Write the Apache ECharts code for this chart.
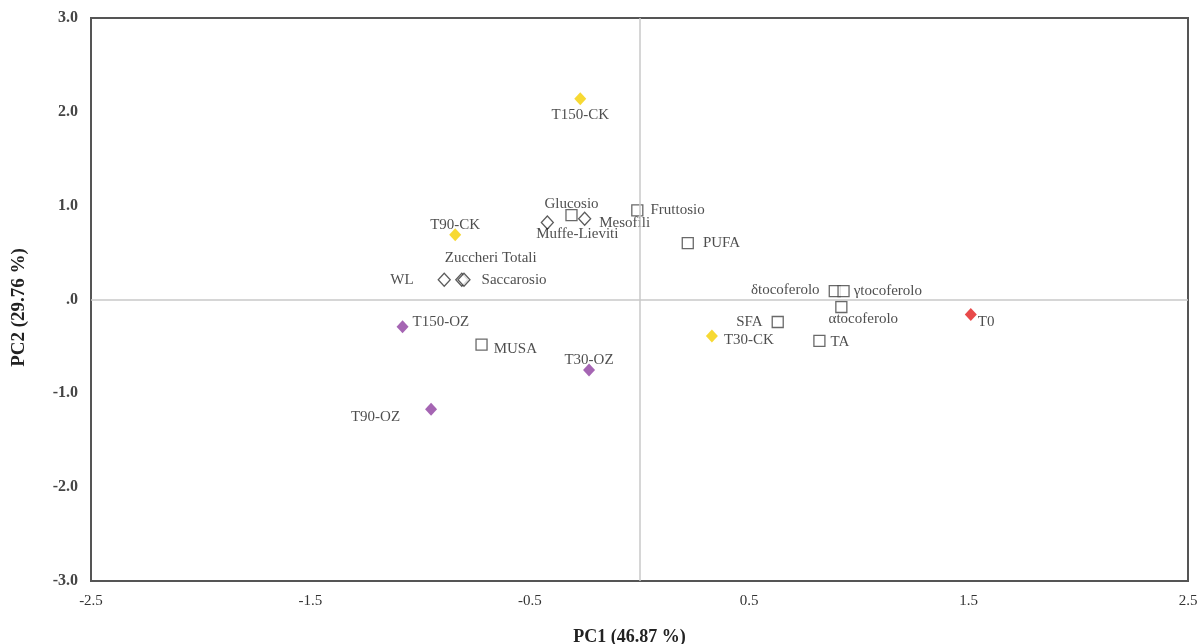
<!DOCTYPE html>
<html><head><meta charset="utf-8">
<script src="https://cdn.jsdelivr.net/npm/echarts@6/dist/echarts.min.js"></script>
<style>html,body{margin:0;padding:0;background:#fff}#c{width:1202px;height:644px}</style>
</head><body><div id="c"></div>
<script>
// ---- data ----
const ckNames = ['T150-CK', 'T90-CK', 'T30-CK'];
const ckX = [-0.27, -0.84, 0.33];
const ckY = [2.14, 0.69, -0.39];

const ozNames = ['T150-OZ', 'T30-OZ', 'T90-OZ'];
const ozX = [-1.08, -0.23, -0.95];
const ozY = [-0.29, -0.75, -1.17];

const t0Names = ['T0'];
const t0X = [1.51];
const t0Y = [-0.16];

const sqNames = ['Glucosio', 'Fruttosio', 'PUFA', 'MUSA', 'SFA', 'TA', 'δtocoferolo', 'γtocoferolo', 'αtocoferolo'];
const sqX = [-0.31, -0.01, 0.22, -0.72, 0.63, 0.82, 0.89, 0.93, 0.92];
const sqY = [0.90, 0.95, 0.60, -0.48, -0.24, -0.44, 0.09, 0.09, -0.08];

const dmNames = ['Muffe-Lieviti', 'Mesofili', 'WL', 'Zuccheri Totali', 'Saccarosio'];
const dmX = [-0.42, -0.25, -0.89, -0.81, -0.80];
const dmY = [0.82, 0.86, 0.21, 0.21, 0.21];

const xTickLabels = ['-2.5', '-1.5', '-0.5', '0.5', '1.5', '2.5'];
const yTickLabels = ['-3.0', '-2.0', '-1.0', '.0', '1.0', '2.0', '3.0'];

// ---- label placement (style only) ----
const labelCfg = {
  'T150-CK': {position: 'bottom', distance: 2},
  'T90-CK': {position: 'top', distance: -4},
  'T30-CK': {position: 'right', distance: 6, offset: [0, 4]},
  'T150-OZ': {position: 'right', distance: 4, offset: [0, -5]},
  'T30-OZ': {position: 'top', distance: -4},
  'T90-OZ': {position: 'left', distance: 25, offset: [0, 8]},
  'T0': {position: 'right', distance: 1, offset: [0, 8]},
  'Glucosio': {position: 'top', distance: -3},
  'Fruttosio': {position: 'right', distance: 7},
  'PUFA': {position: 'right', distance: 9},
  'MUSA': {position: 'right', distance: 6, offset: [0, 5]},
  'SFA': {position: 'left', distance: 9},
  'TA': {position: 'right', distance: 5, offset: [0, 1]},
  'δtocoferolo': {position: 'left', distance: 9, offset: [0, -1]},
  'γtocoferolo': {position: 'right', distance: 4},
  'αtocoferolo': {position: 'bottom', distance: -2, offset: [22, 0]},
  'Muffe-Lieviti': {position: 'bottom', distance: -3, offset: [30, 0]},
  'Mesofili': {position: 'right', distance: 8, offset: [0, 4]},
  'WL': {position: 'left', distance: 24},
  'Zuccheri Totali': {position: 'top', distance: 7, offset: [29, 0]},
  'Saccarosio': {position: 'right', distance: 11}
};

const serif = '"Liberation Serif", "DejaVu Serif", serif';

function pts(names, xs, ys) {
  return names.map((n, i) => ({
    name: n,
    value: [xs[i], ys[i]],
    label: Object.assign({show: true}, labelCfg[n] || {})
  }));
}

const labelStyle = {
  show: true, formatter: '{b}', fontFamily: serif, fontSize: 15, color: '#222'
};

const chart = echarts.init(document.getElementById('c'), null, {renderer: 'canvas'});
chart.setOption({
  backgroundColor: '#fff',
  animation: false,
  grid: {
    left: 91, right: 14, top: 18, bottom: 63, containLabel: false, outerBoundsMode: 'none',
    show: true, borderColor: '#555', borderWidth: 2, backgroundColor: 'transparent'
  },
  xAxis: {
    type: 'value', min: -2.5, max: 2.5, interval: 0.5,
    name: 'PC1 (46.87 %)', nameLocation: 'middle', nameGap: 47,
    nameTextStyle: {fontFamily: serif, fontSize: 18, fontWeight: 'bold', color: '#222', padding: [0, 20, 0, 0]},
    axisLine: {show: false}, axisTick: {show: false}, splitLine: {show: false},
    axisLabel: {
      margin: 13, fontFamily: serif, fontSize: 15, color: '#333',
      formatter: v => { const s = v.toFixed(1); return xTickLabels.includes(s) ? s : ''; }
    }
  },
  yAxis: {
    type: 'value', min: -3, max: 3, interval: 1,
    name: 'PC2 (29.76 %)', nameLocation: 'middle', nameGap: 62,
    nameTextStyle: {fontFamily: serif, fontSize: 19, fontWeight: 'bold', color: '#222', padding: [0, 16, 0, 0]},
    axisLine: {show: false}, axisTick: {show: false}, splitLine: {show: false},
    axisLabel: {
      margin: 13, fontFamily: serif, fontSize: 16, fontWeight: 'bold', color: '#444',
      formatter: v => yTickLabels[Math.round(v) + 3]
    }
  },
  series: [
    {
      type: 'scatter', name: 'zero', data: [], silent: true,
      markLine: {
        silent: true, symbol: 'none', label: {show: false},
        lineStyle: {color: '#c8c8c8', width: 1.5, type: 'solid'},
        data: [{xAxis: 0}, {yAxis: 0}]
      }
    },
    {
      type: 'scatter', name: 'vars-sq', symbol: 'rect', symbolSize: 11,
      itemStyle: {color: '#fff', borderColor: '#444', borderWidth: 1.3},
      label: labelStyle, data: pts(sqNames, sqX, sqY)
    },
    {
      type: 'scatter', name: 'vars-dm', symbol: 'diamond', symbolSize: [12, 13],
      itemStyle: {color: '#fff', borderColor: '#333', borderWidth: 1.3},
      label: labelStyle, data: pts(dmNames, dmX, dmY)
    },
    {
      type: 'scatter', name: 'CK', symbol: 'diamond', symbolSize: [12, 13],
      itemStyle: {color: '#f5cf00'}, label: labelStyle, data: pts(ckNames, ckX, ckY)
    },
    {
      type: 'scatter', name: 'OZ', symbol: 'diamond', symbolSize: [12, 13],
      itemStyle: {color: '#8e3ea0'}, label: labelStyle, data: pts(ozNames, ozX, ozY)
    },
    {
      type: 'scatter', name: 'T0', symbol: 'diamond', symbolSize: [12, 13],
      itemStyle: {color: '#e21d1d'}, label: labelStyle, data: pts(t0Names, t0X, t0Y)
    }
  ]
});
</script></body></html>
